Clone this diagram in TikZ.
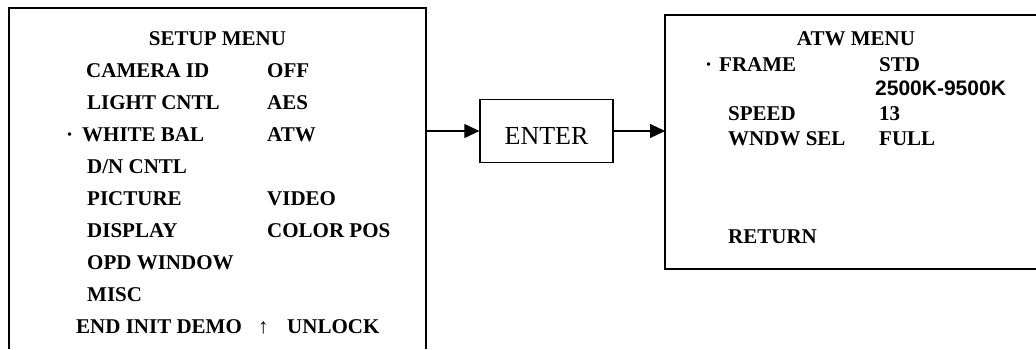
\documentclass[tikz,border=0pt]{standalone}
\usepackage{fontspec}
\setmainfont{Liberation Serif}
\newfontfamily\arialfont{Liberation Sans}
\usetikzlibrary{arrows.meta}

\tikzset{
	menuitem/.style={anchor=base west, inner sep=0pt, font=\fontsize{21}{21}\selectfont\bfseries},
	menutitle/.style={anchor=base, inner sep=0pt, font=\fontsize{21}{21}\selectfont\bfseries},
	frameline/.style={line width=1.2pt},
	flowarrow/.style={line width=1.1pt, -{Triangle[length=15pt,width=14pt]}}
}

\begin{document}
\begin{tikzpicture}[x=1pt, y=-1pt]

	\useasboundingbox (0,0) rectangle (1036,349);

	% setup menu frame (open at the bottom)
	\draw[frameline] (9,349) -- (9,8) -- (426,8) -- (426,349);
	\coordinate (setupR) at (426,131);

	% setup menu texts
	\node[menutitle] (setup) at (217.5,45) {SETUP MENU};
	\node[menuitem] (camid)  at (86,77)    {CAMERA ID};
	\node[menuitem] (camval) at (267,77)   {OFF};
	\node[menuitem] (light)  at (87,109)   {LIGHT CNTL};
	\node[menuitem] (lightval) at (267,109) {AES};
	\node[menuitem] (wdot)   at (66,141)   {·};
	\node[menuitem] (white)  at (82,141)   {WHITE BAL};
	\node[menuitem] (whiteval) at (267,141) {ATW};
	\node[menuitem] (dn)     at (87,173)   {D/N CNTL};
	\node[menuitem] (pict)   at (87,205)   {PICTURE};
	\node[menuitem] (pictval) at (267,205) {VIDEO};
	\node[menuitem] (disp)   at (87,237)   {DISPLAY};
	\node[menuitem] (dispval) at (267,237) {COLOR POS};
	\node[menuitem] (opd)    at (87,269)   {OPD WINDOW};
	\node[menuitem] (misc)   at (87,301)   {MISC};
	\node[menuitem] (endinit) at (76,333)  {END INIT DEMO};
	\node[menuitem] (uparr)  at (258,333)  {↑};
	\node[menuitem] (unlock) at (287,333)  {UNLOCK};

	% enter key
	\node[draw, line width=1.3pt, minimum width=133pt, minimum height=63pt,
		text height=26pt, text depth=0pt, inner sep=0pt,
		font=\fontsize{26}{26}\selectfont] (enter) at (546.5,131) {ENTER};

	% atw menu frame (open at the right)
	\draw[frameline] (1036,15) -- (665,15) -- (665,269) -- (1036,269);
	\coordinate (atwL) at (665,131);

	% atw menu texts
	\node[menutitle] (atw)   at (856,45)  {ATW MENU};
	\node[menuitem] (fdot)   at (705,71)  {·};
	\node[menuitem] (frame)  at (719,71)  {FRAME};
	\node[menuitem] (frameval) at (879,71) {STD};
	\node[menuitem, font=\fontsize{21}{21}\selectfont\arialfont\bfseries] (range) at (875,95) {2500K-9500K};
	\node[menuitem] (speed)  at (728,120) {SPEED};
	\node[menuitem] (speedval) at (879,120) {13};
	\node[menuitem] (wndw)   at (728,145) {WNDW SEL};
	\node[menuitem] (wndwval) at (879,145) {FULL};
	\node[menuitem] (ret)    at (728,243) {RETURN};

	% arrows
	\draw[flowarrow] (setupR) -- (enter.west);
	\draw[flowarrow] (enter.east) -- (atwL);

\end{tikzpicture}
\end{document}
